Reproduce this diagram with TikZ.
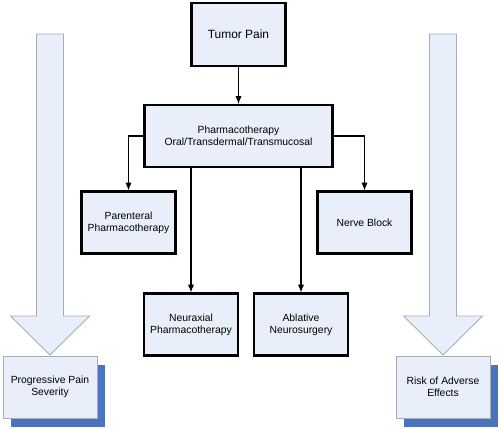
\documentclass[tikz,border=0pt]{standalone}
\usepackage{fontspec}
\setmainfont{Liberation Sans}
\usepackage{xcolor}
\usepackage{tikz}
\usetikzlibrary{arrows.meta,positioning,calc,shadows}

\definecolor{boxfill}{RGB}{232,239,250}
\definecolor{shadeblue}{RGB}{74,116,190}
\definecolor{edgegray}{RGB}{168,172,180}

\begin{document}
\begin{tikzpicture}[x=0.02cm, y=-0.02cm, >={Latex[length=4.5pt,width=3.6pt]},
  stepbox/.style={draw, line width=1.2pt, fill=boxfill, minimum width=1.88cm, minimum height=1.24cm,
    align=center, inner sep=1pt, font=\fontsize{5.9pt}{6.9pt}\selectfont},
  scalebox/.style={draw=edgegray, line width=0.5pt, fill=boxfill, minimum width=1.88cm, minimum height=1.24cm,
    align=center, inner sep=1pt, font=\fontsize{5.9pt}{6.9pt}\selectfont,
    copy shadow={shadow xshift=0.16cm, shadow yshift=-0.18cm, fill=shadeblue, draw=none}},
  bigarrow/.style={draw=edgegray, line width=0.5pt, fill=boxfill},
  link/.style={->, line width=0.6pt}]
\useasboundingbox (0,0) rectangle (500,429);

% the two scale arrows
\foreach \cx in {50,443}
  \draw[bigarrow] (\cx-13.5,34) -- (\cx+13.5,34) -- (\cx+13.5,316) -- (\cx+39.5,316)
    -- (\cx,355) -- (\cx-39.5,316) -- (\cx-13.5,316) -- cycle;

\node[stepbox, minimum height=1.26cm, font=\fontsize{6.8pt}{8pt}\selectfont] (tumor) at (238.5,34.5) {Tumor Pain};
\node[stepbox, minimum width=3.76cm] (pharma) at (238.5,136) {Pharmacotherapy\\Oral/Transdermal/Transmucosal};
\node[stepbox] (parent) at (128.5,222.5) {Parenteral\\Pharmacotherapy};
\node[stepbox] (nerve) at (364.5,222.5) {Nerve Block};
\node[stepbox] (neurax) at (191,324.5) {Neuraxial\\Pharmacotherapy};
\node[stepbox] (ablat) at (301,324.5) {Ablative\\Neurosurgery};

\node[scalebox] (severity) at (50,387) {Progressive Pain\\Severity};
\node[scalebox] (adverse) at (443,387) {Risk of Adverse\\Effects};

\draw[link] (tumor) -- (pharma);
\draw[link] (pharma.west) -| (parent.north);
\draw[link] (pharma.east) -| (nerve.north);
\draw[link] (pharma.south -| neurax.north) -- (neurax.north);
\draw[link] (pharma.south -| ablat.north) -- (ablat.north);
\end{tikzpicture}
\end{document}
